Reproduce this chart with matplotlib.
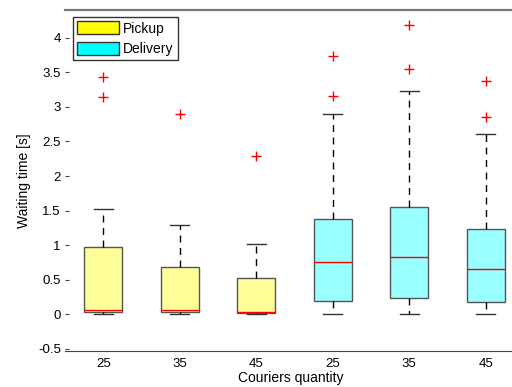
import matplotlib
matplotlib.use("Agg")
import matplotlib.pyplot as plt
from matplotlib.patches import Patch

plt.rcParams['font.family'] = ['Liberation Sans', 'DejaVu Sans']

# Courier counts for each group
categories = ["25", "35", "45", "25", "35", "45"]
groups = ["Pickup", "Pickup", "Pickup", "Delivery", "Delivery", "Delivery"]

# Box statistics (seconds)
q1 = [0.03, 0.03, 0.02, 0.20, 0.23, 0.18]
median = [0.06, 0.06, 0.04, 0.75, 0.83, 0.66]
q3 = [0.97, 0.68, 0.53, 1.38, 1.55, 1.24]
whisker_low = [0.0, 0.0, 0.0, 0.0, 0.0, 0.0]
whisker_high = [1.53, 1.29, 1.02, 2.89, 3.23, 2.61]
outliers = [[3.14, 3.43], [2.89], [2.29], [3.16, 3.74], [3.54, 4.19], [2.86, 3.38]]

yticks = [-0.5, 0, 0.5, 1, 1.5, 2, 2.5, 3, 3.5, 4]
ytick_labels = ["-0.5", "0", "0.5", "1", "1.5", "2", "2.5", "3", "3.5", "4"]

face = {"Pickup": "#ffff99", "Delivery": "#99ffff"}
legend_face = {"Pickup": "#ffff00", "Delivery": "#00ffff"}

fig = plt.figure(figsize=(5.12, 3.87), dpi=100)
ax = fig.add_axes([65 / 512, 36 / 387, 459 / 512, 341 / 387])

stats = []
for i in range(len(categories)):
    stats.append(dict(q1=q1[i], med=median[i], q3=q3[i],
                      whislo=whisker_low[i], whishi=whisker_high[i],
                      fliers=outliers[i], label=categories[i]))

positions = list(range(1, len(categories) + 1))
bp = ax.bxp(stats, positions=positions, widths=0.5, capwidths=0.25,
            patch_artist=True, showfliers=True,
            boxprops=dict(edgecolor="#555555", linewidth=1.0),
            medianprops=dict(color="red", linewidth=1.0),
            whiskerprops=dict(color="black", linewidth=1.0, linestyle=(0, (5, 4))),
            capprops=dict(color="#333333", linewidth=1.0),
            flierprops=dict(marker="+", markeredgecolor="red", markersize=7,
                            markeredgewidth=1.0, linestyle="none"))
for box, g in zip(bp["boxes"], groups):
    box.set_facecolor(face[g])

ax.set_xlim(0.5, 6.5)
ax.set_ylim(-0.53, 4.4)
ax.set_xticks(positions)
ax.set_xticklabels(categories)
ax.set_yticks(yticks)
ax.set_yticklabels(ytick_labels)

ax.tick_params(axis="y", direction="in", length=3, color="#444444", labelsize=9.5, pad=3)
ax.tick_params(axis="x", length=0, labelsize=9.5, pad=5)

ax.spines["left"].set_visible(False)
ax.spines["right"].set_visible(False)
ax.spines["bottom"].set_color("#444444")
ax.spines["top"].set_color("#777777")
ax.spines["top"].set_linewidth(1.6)

ax.set_ylabel("Waiting time [s]", fontsize=10, labelpad=5)
ax.set_xlabel("Couriers quantity", fontsize=10)
ax.xaxis.set_label_coords((291 - 65) / 459, -0.06)

handles = [Patch(facecolor=legend_face[g], edgecolor="#333333", label=g)
           for g in ["Pickup", "Delivery"]]
leg = ax.legend(handles=handles, loc="upper left",
                bbox_to_anchor=((73 - 65) / 459, (351 - 17) / 341),
                fontsize=10, frameon=True, fancybox=False, handlelength=3.0,
                handleheight=1.1, borderpad=0.3, labelspacing=0.45,
                handletextpad=0.3, borderaxespad=0)
leg.get_frame().set_edgecolor("black")
leg.get_frame().set_linewidth(1.0)

fig.savefig("out.png", dpi=100)
